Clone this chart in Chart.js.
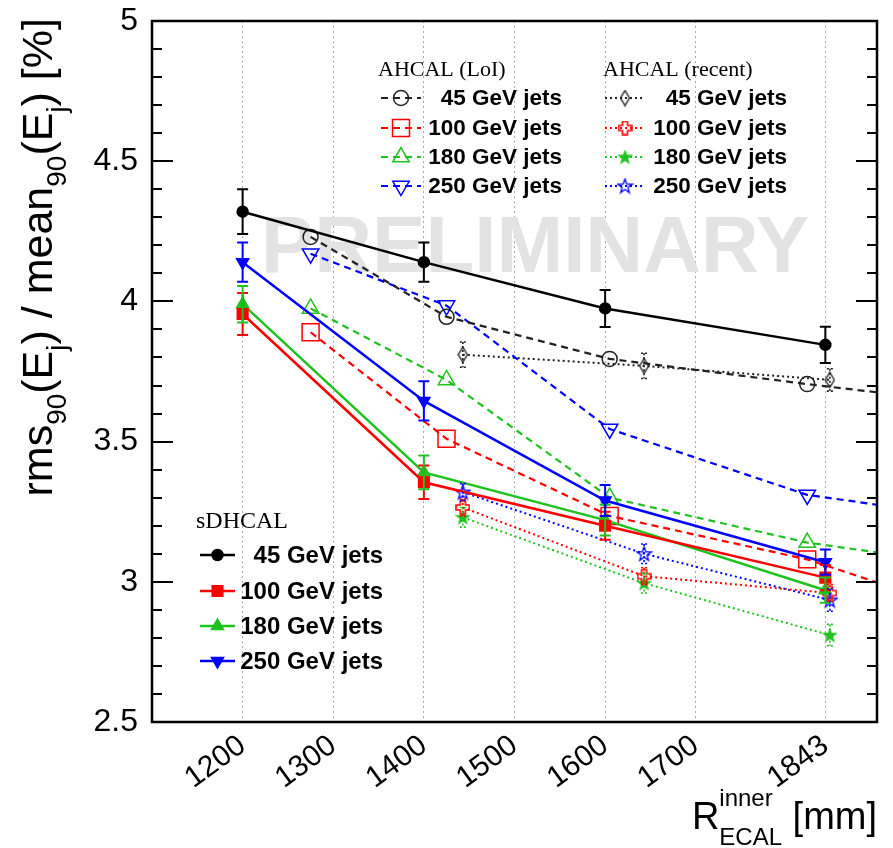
<!DOCTYPE html>
<html>
<head>
<meta charset="utf-8">
<script src="https://cdn.jsdelivr.net/npm/chart.js@4.4.1/dist/chart.umd.min.js"></script>
<style>
  html, body { margin: 0; padding: 0; background: #fff; }
  #wrap { width: 893px; height: 848px; position: relative; }
</style>
</head>
<body>
<div id="wrap"><canvas id="chart" width="893" height="848"></canvas></div>
<script>
// R_ECAL inner radius [mm]
const xSdhcal = [1200, 1400, 1600, 1843];
const xLoi = [1275, 1425, 1605, 1823, 2020];
const xRecent = [1443, 1643, 1848];
const xTickValues = [1200, 1300, 1400, 1500, 1600, 1700, 1843];
const yTickValues = [2.5, 3, 3.5, 4, 4.5, 5];

// sDHCAL
const sdhcal45 = [4.32, 4.14, 3.975, 3.845];
const sdhcal45Err = [0.08, 0.07, 0.066, 0.065];
const sdhcal100 = [3.955, 3.355, 3.20, 3.015];
const sdhcal100Err = [0.075, 0.06, 0.05, 0.045];
const sdhcal180 = [3.99, 3.39, 3.22, 2.97];
const sdhcal180Err = [0.065, 0.06, 0.055, 0.045];
const sdhcal250 = [4.14, 3.645, 3.29, 3.07];
const sdhcal250Err = [0.07, 0.07, 0.055, 0.045];

// AHCAL (LoI)
const loi45 = [4.23, 3.945, 3.795, 3.705, 3.63];
const loi100 = [3.89, 3.51, 3.235, 3.08, 2.87];
const loi180 = [3.975, 3.72, 3.30, 3.14, 3.05];
const loi250 = [4.17, 3.985, 3.545, 3.31, 3.22];

// AHCAL (recent)
const recent45 = [3.81, 3.77, 3.72];
const recent45Err = [0.045, 0.045, 0.04];
const recent100 = [3.265, 3.02, 2.96];
const recent100Err = [0.03, 0.03, 0.03];
const recent180 = [3.23, 2.995, 2.81];
const recent180Err = [0.035, 0.035, 0.038];
const recent250 = [3.32, 3.10, 2.935];
const recent250Err = [0.03, 0.035, 0.04];

const energyLabels = ['45 GeV jets', '100 GeV jets', '180 GeV jets', '250 GeV jets'];

const BLACK = '#000000';
const RED = '#ff0000';
const GREEN = '#1fc31f';
const BLUE = '#0000ff';
const SANS = '"Liberation Sans", Arial, Helvetica, sans-serif';
const SERIF = '"Liberation Serif", "Times New Roman", serif';

// --- custom marker images (ROOT style) ---
function makeCanvas(w, h) {
    const c = document.createElement('canvas');
    c.width = w; c.height = h;
    return c;
}
function starMarker(color, filled, size) {
    const c = makeCanvas(size, size);
    const g = c.getContext('2d');
    const cx = size / 2, cy = size / 2 + 0.5, R = size / 2 - 1, r = R * 0.4;
    g.beginPath();
    for (let i = 0; i < 10; i++) {
        const a = -Math.PI / 2 + i * Math.PI / 5;
        const rad = i % 2 === 0 ? R : r;
        g.lineTo(cx + rad * Math.cos(a), cy + rad * Math.sin(a));
    }
    g.closePath();
    if (filled) { g.fillStyle = color; g.fill(); }
    g.strokeStyle = color; g.lineWidth = 1.3; g.stroke();
    return c;
}
function openCrossMarker(color, size) {
    const c = makeCanvas(size, size);
    const g = c.getContext('2d');
    const a = 1, b = size * 0.33, d = size * 0.67, e = size - 1;
    g.beginPath();
    g.moveTo(b, a); g.lineTo(d, a); g.lineTo(d, b); g.lineTo(e, b); g.lineTo(e, d);
    g.lineTo(d, d); g.lineTo(d, e); g.lineTo(b, e); g.lineTo(b, d); g.lineTo(a, d);
    g.lineTo(a, b); g.lineTo(b, b); g.closePath();
    g.strokeStyle = color; g.lineWidth = 1.6; g.stroke();
    return c;
}
function diamondMarker(color, w, h) {
    const c = makeCanvas(w, h);
    const g = c.getContext('2d');
    g.beginPath();
    g.moveTo(w / 2, 1); g.lineTo(w - 1, h / 2); g.lineTo(w / 2, h - 1); g.lineTo(1, h / 2);
    g.closePath();
    g.strokeStyle = color; g.lineWidth = 1.4; g.stroke();
    return c;
}

function toPoints(xs, ys) {
    return xs.map((x, i) => ({ x: x, y: ys[i] }));
}

const SOLID = [];
const DASHED = [7, 5];
const DOTTED = [2, 3];

function series(group, label, xs, ys, errs, color, dash, width, marker) {
    return {
        group: group,
        label: label,
        data: toPoints(xs, ys),
        errors: errs,
        borderColor: color,
        backgroundColor: color,
        borderWidth: width,
        borderDash: dash,
        tension: 0,
        fill: false,
        pointStyle: marker.style,
        pointRadius: marker.radius,
        pointHoverRadius: marker.radius,
        pointRotation: marker.rotation || 0,
        pointBackgroundColor: marker.filled ? color : 'rgba(0,0,0,0)',
        pointBorderColor: color,
        pointBorderWidth: marker.borderWidth || 1.5
    };
}

const datasets = [
    series('sdhcal', energyLabels[0], xSdhcal, sdhcal45, sdhcal45Err, BLACK, SOLID, 2.5, { style: 'circle', radius: 5.5, filled: true }),
    series('sdhcal', energyLabels[1], xSdhcal, sdhcal100, sdhcal100Err, RED, SOLID, 2.5, { style: 'rect', radius: 7.5, filled: true }),
    series('sdhcal', energyLabels[2], xSdhcal, sdhcal180, sdhcal180Err, GREEN, SOLID, 2.5, { style: 'triangle', radius: 7, filled: true }),
    series('sdhcal', energyLabels[3], xSdhcal, sdhcal250, sdhcal250Err, BLUE, SOLID, 2.5, { style: 'triangle', radius: 7, rotation: 180, filled: true }),

    series('loi', energyLabels[0], xLoi, loi45, null, '#222222', DASHED, 2.2, { style: 'circle', radius: 7.5 }),
    series('loi', energyLabels[1], xLoi, loi100, null, RED, DASHED, 2.2, { style: 'rect', radius: 12 }),
    series('loi', energyLabels[2], xLoi, loi180, null, GREEN, DASHED, 2.2, { style: 'triangle', radius: 9.5 }),
    series('loi', energyLabels[3], xLoi, loi250, null, BLUE, DASHED, 2.2, { style: 'triangle', radius: 9.5, rotation: 180 }),

    series('recent', energyLabels[0], xRecent, recent45, recent45Err, '#222222', DOTTED, 2, { style: diamondMarker('#222222', 11, 17), radius: 8 }),
    series('recent', energyLabels[1], xRecent, recent100, recent100Err, RED, DOTTED, 2, { style: openCrossMarker(RED, 15), radius: 8 }),
    series('recent', energyLabels[2], xRecent, recent180, recent180Err, GREEN, DOTTED, 2, { style: starMarker(GREEN, true, 15), radius: 8 }),
    series('recent', energyLabels[3], xRecent, recent250, recent250Err, BLUE, DOTTED, 2, { style: starMarker(BLUE, false, 17), radius: 8 })
];

// draws text made of pieces with sub/superscripts; returns total width
function richParts(ctx, parts) {
    let w = 0;
    parts.forEach(p => {
        if (p.t !== undefined) {
            ctx.font = p.font;
            p.w = ctx.measureText(p.t).width;
        } else {
            ctx.font = p.font;
            p.w = Math.max(ctx.measureText(p.sup || '').width, ctx.measureText(p.sub || '').width);
        }
        w += p.w;
    });
    return w;
}
function drawRich(ctx, parts, xEnd, y) {
    const total = richParts(ctx, parts);
    let x = xEnd - total;
    ctx.textAlign = 'left';
    ctx.textBaseline = 'alphabetic';
    parts.forEach(p => {
        ctx.font = p.font;
        if (p.t !== undefined) {
            ctx.fillText(p.t, x, y + (p.dy || 0));
        } else {
            if (p.sup) ctx.fillText(p.sup, x, y + p.supDy);
            if (p.sub) ctx.fillText(p.sub, x, y + p.subDy);
        }
        x += p.w;
    });
}

function drawLegend(ctx, cfg) {
    ctx.save();
    ctx.fillStyle = '#000';
    ctx.font = cfg.headerFont;
    ctx.textAlign = 'left';
    ctx.textBaseline = 'middle';
    ctx.fillText(cfg.header, cfg.headerX, cfg.headerY);
    const sets = datasets.filter(d => d.group === cfg.group);
    sets.forEach((ds, i) => {
        const y = cfg.rows[i];
        ctx.save();
        ctx.strokeStyle = ds.borderColor;
        ctx.lineWidth = ds.borderWidth;
        ctx.setLineDash(ds.borderDash);
        ctx.beginPath();
        ctx.moveTo(cfg.lineX0, y);
        ctx.lineTo(cfg.lineX1, y);
        ctx.stroke();
        ctx.setLineDash([]);
        ctx.fillStyle = ds.pointBackgroundColor;
        ctx.strokeStyle = ds.pointBorderColor;
        ctx.lineWidth = ds.pointBorderWidth;
        Chart.helpers.drawPoint(ctx, {
            pointStyle: ds.pointStyle,
            rotation: ds.pointRotation,
            radius: ds.pointRadius,
            borderWidth: ds.pointBorderWidth
        }, (cfg.lineX0 + cfg.lineX1) / 2, y);
        ctx.restore();
        ctx.fillStyle = '#000';
        ctx.font = cfg.entryFont;
        ctx.textAlign = 'right';
        ctx.textBaseline = 'middle';
        ctx.fillText(ds.label, cfg.textRight, y + 1);
    });
    ctx.restore();
}

const rootStyle = {
    id: 'rootStyle',
    beforeDatasetsDraw(chart) {
        const ctx = chart.ctx;
        const area = chart.chartArea;
        ctx.save();
        ctx.beginPath();
        ctx.rect(area.left, area.top, area.right - area.left, area.bottom - area.top);
        ctx.clip();
        ctx.fillStyle = '#e3e3e3';
        ctx.font = 'bold 80px ' + SANS;
        ctx.textAlign = 'center';
        ctx.textBaseline = 'alphabetic';
        ctx.fillText('PRELIMINARY', 535, 272);
        ctx.restore();
    },
    afterDatasetsDraw(chart) {
        const ctx = chart.ctx;
        const xs = chart.scales.x;
        const ys = chart.scales.y;
        const area = chart.chartArea;
        ctx.save();
        ctx.beginPath();
        ctx.rect(area.left, area.top, area.right - area.left, area.bottom - area.top);
        ctx.clip();
        chart.data.datasets.forEach((ds, di) => {
            if (!ds.errors || !chart.isDatasetVisible(di)) return;
            const dotted = ds.group === 'recent';
            ctx.strokeStyle = ds.borderColor;
            ctx.lineWidth = dotted ? 1.6 : 2;
            ctx.setLineDash(dotted ? [2, 2] : []);
            const cap = dotted ? 3 : 5.5;
            ds.data.forEach((p, i) => {
                const e = ds.errors[i];
                const px = xs.getPixelForValue(p.x);
                const yTop = ys.getPixelForValue(p.y + e);
                const yBot = ys.getPixelForValue(p.y - e);
                ctx.beginPath();
                ctx.moveTo(px, yTop); ctx.lineTo(px, yBot);
                ctx.moveTo(px - cap, yTop); ctx.lineTo(px + cap, yTop);
                ctx.moveTo(px - cap, yBot); ctx.lineTo(px + cap, yBot);
                ctx.stroke();
            });
        });
        ctx.restore();
    },
    afterDraw(chart) {
        const ctx = chart.ctx;
        const area = chart.chartArea;
        const ys = chart.scales.y;
        ctx.save();
        // ticks on left and right frame
        ctx.strokeStyle = '#000';
        ctx.lineWidth = 2;
        for (let k = 0; k <= 25; k++) {
            const v = 2.5 + k * 0.1;
            const py = Math.round(ys.getPixelForValue(v));
            const len = k % 5 === 0 ? 21 : 10;
            ctx.beginPath();
            ctx.moveTo(area.left, py); ctx.lineTo(area.left + len, py);
            ctx.moveTo(area.right, py); ctx.lineTo(area.right - len, py);
            ctx.stroke();
        }
        // frame
        ctx.lineWidth = 2.5;
        ctx.strokeRect(area.left, area.top, area.right - area.left, area.bottom - area.top);

        // legends
        drawLegend(ctx, {
            group: 'loi', header: 'AHCAL (LoI)', headerFont: '22px ' + SERIF, headerX: 378, headerY: 70,
            rows: [98, 128, 157, 186], lineX0: 381, lineX1: 421, textRight: 562, entryFont: 'bold 22.5px ' + SANS
        });
        drawLegend(ctx, {
            group: 'recent', header: 'AHCAL (recent)', headerFont: '22px ' + SERIF, headerX: 603, headerY: 70,
            rows: [98, 128, 157, 186], lineX0: 605, lineX1: 645, textRight: 787, entryFont: 'bold 22.5px ' + SANS
        });
        drawLegend(ctx, {
            group: 'sdhcal', header: 'sDHCAL', headerFont: '24px ' + SERIF, headerX: 196, headerY: 522,
            rows: [555, 591, 626, 661], lineX0: 200, lineX1: 235, textRight: 383, entryFont: 'bold 24px ' + SANS
        });

        // axis titles
        ctx.fillStyle = '#000';
        const big = '38px ' + SANS;
        const small = '24px ' + SANS;
        drawRich(ctx, [
            { t: 'R', font: big },
            { sup: 'inner', sub: 'ECAL', font: small, supDy: -23, subDy: 16 },
            { t: ' [mm]', font: big }
        ], area.right, 829);

        ctx.save();
        ctx.translate(52, 18);
        ctx.rotate(-Math.PI / 2);
        const ybig = '43px ' + SANS;
        const ysmall = '28px ' + SANS;
        drawRich(ctx, [
            { t: 'rms', font: ybig },
            { sub: '90', font: ysmall, subDy: 14 },
            { t: '(E', font: ybig },
            { sub: 'j', font: ysmall, subDy: 14 },
            { t: ') / mean', font: ybig },
            { sub: '90', font: ysmall, subDy: 14 },
            { t: '(E', font: ybig },
            { sub: 'j', font: ysmall, subDy: 14 },
            { t: ') [%]', font: ybig }
        ], 0, 0);
        ctx.restore();
        ctx.restore();
    }
};

const ctx = document.getElementById('chart').getContext('2d');
const chart = new Chart(ctx, {
    type: 'line',
    data: { datasets: datasets },
    options: {
        responsive: false,
        animation: false,
        events: [],
        layout: { padding: { top: 21, right: 16, left: 0, bottom: 0 } },
        plugins: {
            legend: { display: false },
            tooltip: { enabled: false },
            title: { display: false }
        },
        scales: {
            x: {
                type: 'linear',
                min: 1100,
                max: 1900,
                afterBuildTicks: function(scale) {
                    scale.ticks = xTickValues.map(v => ({ value: v }));
                },
                afterFit: function(scale) {
                    scale.height = 126;
                    scale.paddingLeft = 0;
                    scale.paddingRight = 0;
                },
                ticks: {
                    autoSkip: false,
                    minRotation: 36,
                    maxRotation: 36,
                    padding: 6,
                    color: '#000',
                    font: { family: SANS, size: 30 },
                    callback: v => String(v)
                },
                grid: { color: '#a8a8a8', lineWidth: 1, drawTicks: false },
                border: { display: false, dash: [2, 3] }
            },
            y: {
                min: 2.5,
                max: 5,
                afterBuildTicks: function(scale) {
                    scale.ticks = yTickValues.map(v => ({ value: v }));
                },
                afterFit: function(scale) {
                    scale.width = 152;
                    scale.paddingTop = 0;
                    scale.paddingBottom = 0;
                },
                ticks: {
                    padding: 14,
                    color: '#000',
                    font: { family: SANS, size: 32 },
                    callback: v => String(v)
                },
                grid: { display: false, drawTicks: false },
                border: { display: false }
            }
        }
    },
    plugins: [rootStyle]
});
</script>
</body>
</html>
